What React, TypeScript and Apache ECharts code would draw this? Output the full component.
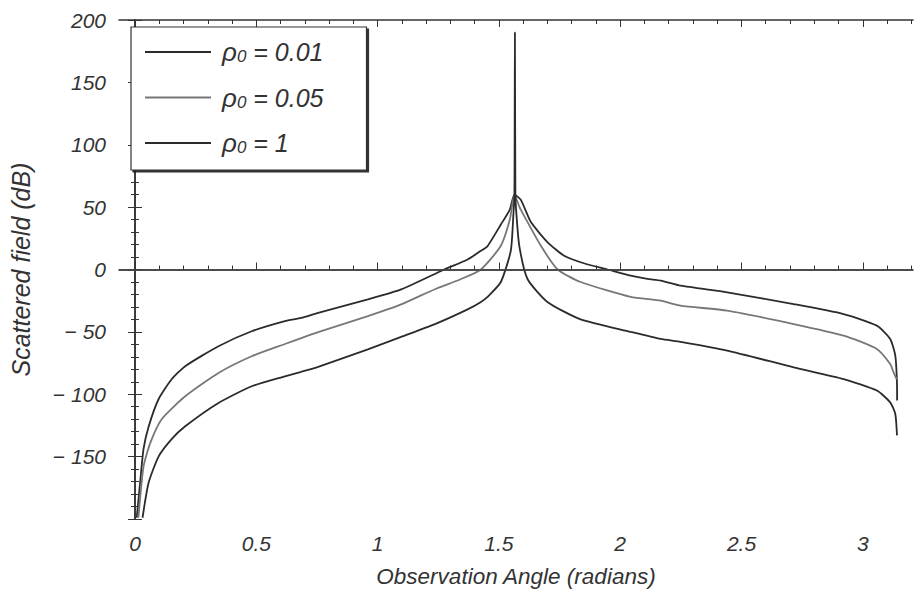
import React, { useEffect, useRef } from "react";
import * as echarts from "echarts";

// Observation angle (radians) and scattered field (dB)
const thetaA = [0.007, 0.021, 0.035, 0.056, 0.097, 0.151, 0.207, 0.344, 0.481, 0.618, 0.685, 0.755, 0.96, 1.097, 1.275, 1.371, 1.426, 1.453, 1.508, 1.545, 1.564, 1.59, 1.632, 1.7, 1.769, 1.85, 1.947, 2.043, 2.112, 2.167, 2.249, 2.441, 2.715, 2.921, 3.058, 3.113, 3.134, 3.1405, 3.1416];
const fieldA = [-199, -171, -144, -126, -104, -88, -77.5, -61.5, -49.5, -41.4, -38.8, -34.8, -24, -16, 0, 8, 15, 18.7, 36, 48, 60, 56, 38, 22, 11, 5, 0, -5, -7.6, -9, -13, -18.3, -27.7, -35.7, -45, -55.7, -69, -88, -105];

const thetaB = [0.014, 0.035, 0.063, 0.11, 0.207, 0.344, 0.481, 0.618, 0.685, 0.755, 0.96, 1.097, 1.234, 1.34, 1.426, 1.508, 1.545, 1.564, 1.585, 1.604, 1.673, 1.742, 1.837, 2.043, 2.167, 2.249, 2.441, 2.715, 2.921, 3.058, 3.113, 3.127, 3.14];
const fieldB = [-199, -158, -139, -120, -101.6, -82.9, -69.5, -59.7, -55, -50.2, -37.4, -28, -16, -8, 0, 19, 40, 60, 50, 43, 19, 0, -10, -22, -25, -29, -33, -43.7, -53, -63.7, -75.8, -82.4, -88];

const thetaC = [0.031, 0.056, 0.097, 0.151, 0.207, 0.344, 0.481, 0.618, 0.685, 0.755, 0.96, 1.097, 1.234, 1.371, 1.426, 1.453, 1.508, 1.549, 1.56, 1.564, 1.566, 1.568, 1.572, 1.584, 1.618, 1.7, 1.837, 2.043, 2.167, 2.249, 2.441, 2.715, 2.921, 3.058, 3.113, 3.134, 3.141];
const fieldC = [-199, -171, -150, -136, -125.7, -107, -93.6, -85.6, -82, -78, -64, -54, -44, -32, -26, -22, -10, 15, 45, 60, 190, 60, 45, 19, -7.6, -26, -40, -50, -55.7, -58, -65, -78.4, -87.8, -97, -106.5, -115.8, -133];

const seriesNames = ["ρ0 = 0.01", "ρ0 = 0.05", "ρ0 = 1"];
const xTickValues = [0, 0.5, 1, 1.5, 2, 2.5, 3];
const yTickValues = [-200, -150, -100, -50, 0, 50, 100, 150, 200];

const X_MIN = -0.066;
const X_MAX = 3.207;

const xMinor: number[] = [];
for (let i = 0; i <= 32; i++) {
  if (i % 5 !== 0) xMinor.push(i / 10);
}

const zip = (xs: number[], ys: number[]) => xs.map((x, i) => [x, ys[i]]);

const FONT = "'Liberation Sans', Arial, sans-serif";
const INK = "#333";
const TXT = "#333";

export default function App() {
  const ref = useRef<HTMLDivElement>(null);
  useEffect(() => {
    if (!ref.current) return;
    const chart = echarts.init(ref.current, undefined, { renderer: "svg" });
    const lineAxis = { show: true, lineStyle: { color: INK, width: 1.6 } };
    const xBase = (position: "top" | "bottom", values: number[], len: number, withLine: boolean, withLabel: boolean) => ({
      type: "value" as const,
      position,
      min: X_MIN,
      max: X_MAX,
      axisLine: withLine ? lineAxis : { show: false },
      axisTick: { show: true, inside: true, length: len, customValues: values, lineStyle: { color: INK, width: 1 } },
      axisLabel: withLabel
        ? { show: true, customValues: xTickValues, fontSize: 21, fontStyle: "italic", fontFamily: FONT, color: TXT, margin: 14 }
        : { show: false },
      splitLine: { show: false },
    });
    const yBase = (position: "left" | "right", withLabel: boolean) => ({
      type: "value" as const,
      position,
      min: yTickValues[0],
      max: yTickValues[yTickValues.length - 1],
      interval: 50,
      axisLine: lineAxis,
      axisTick: { show: true, inside: true, length: 7, lineStyle: { color: INK, width: 1 } },
      minorTick: { show: true, splitNumber: 5, length: 4, lineStyle: { color: INK, width: 1 } },
      axisLabel: withLabel
        ? {
            show: true,
            fontSize: 21,
            fontStyle: "italic",
            fontFamily: FONT,
            color: TXT,
            margin: 13,
            formatter: (v: number) => (v === yTickValues[0] ? "" : v < 0 ? "\u2212 " + -v : String(v)),
          }
        : { show: false },
      splitLine: { show: false },
    });
    const colors = ["#2b2b2b", "#777777", "#2b2b2b"];
    const datasets = [zip(thetaA, fieldA), zip(thetaB, fieldB), zip(thetaC, fieldC)];
    chart.setOption({
      animation: false,
      backgroundColor: "#ffffff",
      grid: { left: 117, right: 1, top: 20, bottom: 74, containLabel: false },
      xAxis: [
        {
          ...xBase("bottom", xTickValues, 7, true, true),
          name: "Observation Angle (radians)",
          nameLocation: "middle",
          nameGap: 46,
          nameTextStyle: { fontSize: 22.5, fontStyle: "italic", fontFamily: FONT, color: TXT },
        },
        xBase("bottom", xMinor, 4, false, false),
        xBase("top", xTickValues, 7, true, false),
        xBase("top", xMinor, 4, false, false),
      ],
      yAxis: [
        {
          ...yBase("left", true),
          name: "Scattered field (dB)",
          nameLocation: "middle",
          nameGap: 86,
          nameRotate: 90,
          nameTextStyle: { fontSize: 25, fontStyle: "italic", fontFamily: FONT, color: TXT },
        },
        yBase("right", false),
      ],
      legend: {
        orient: "vertical",
        left: 131,
        top: 27,
        itemWidth: 66,
        itemHeight: 20,
        itemGap: 19.5,
        padding: [12, 43, 14, 13],
        borderColor: INK,
        borderWidth: 1.2,
        backgroundColor: "#ffffff",
        shadowColor: "rgba(30,30,30,0.9)",
        shadowOffsetX: 2,
        shadowOffsetY: 2,
        shadowBlur: 0,
        itemStyle: { color: "rgba(0,0,0,0)", borderColor: "rgba(0,0,0,0)", borderWidth: 0, opacity: 0 },
        data: seriesNames,
        formatter: (name: string) => {
          const val = name.split("= ")[1];
          return `{g|}{r|ρ}{s|0}{t| = ${val}}`;
        },
        textStyle: {
          fontFamily: FONT,
          color: TXT,
          rich: {
            g: { width: 6 },
            r: { fontSize: 26, fontStyle: "italic", fontFamily: FONT, color: TXT },
            s: { fontSize: 17, fontStyle: "italic", fontFamily: FONT, color: TXT, verticalAlign: "bottom", padding: [8, 0, 0, 0] },
            t: { fontSize: 25, fontStyle: "italic", fontFamily: FONT, color: TXT },
          },
        },
      },
      series: datasets.map((d, i) => ({
        name: seriesNames[i],
        type: "line",
        data: d,
        symbol: "none",
        showSymbol: false,
        smooth: 0.2,
        clip: true,
        xAxisIndex: 0,
        yAxisIndex: 0,
        lineStyle: { color: colors[i], width: 1.8 },
        itemStyle: { color: colors[i] },
        ...(i === 0
          ? {
              markLine: {
                silent: true,
                symbol: ["none", "none"],
                label: { show: false },
                lineStyle: { color: "#444", width: 1.5, type: "solid" },
                data: [{ yAxis: 0 }],
              },
            }
          : {}),
      })),
    });
    return () => chart.dispose();
  }, []);
  return <div ref={ref} style={{ position: "fixed", left: 0, top: 0, width: 914, height: 593 }} />;
}
